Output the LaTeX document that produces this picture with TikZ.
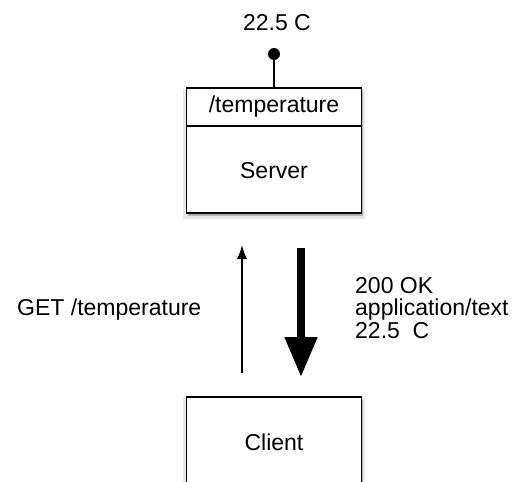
\documentclass[tikz,border=0pt]{standalone}
\usepackage{fontspec}
\setmainfont{Liberation Sans}
\usetikzlibrary{
arrows.meta,
positioning,
shadows
}
\tikzset{>=latex}

\begin{document}
\begin{tikzpicture}[x=1pt,y=-1pt,node distance=0pt,
		box/.style={draw,line width=1.8pt,fill=white,minimum width=175pt,inner sep=0pt},
		shade/.style={drop shadow={shadow xshift=0pt,shadow yshift=-3pt,shadow scale=1.04,opacity=0.15,fill=black!60},
			drop shadow={shadow xshift=1.5pt,shadow yshift=-3pt,opacity=0.4,fill=black!60}},
		every node/.style={font=\fontsize{23}{22.5}\selectfont}]
		\useasboundingbox (0,0) rectangle (523,482);
		\clip (0,0) rectangle (523,482);
		% server with its resource
		\node[box,shade,minimum height=125pt] at (274,150.5) (server) {};
		\node[box,minimum height=38pt,below=0pt of server.north] (res) {/temperature};
		\node[minimum height=87pt,below=0pt of res] (srvname) {Server};
		\node[circle,fill,inner sep=0pt,minimum size=12pt] at (274,54) (pin) {};
		\draw[line width=1.6pt] (pin) -- (server.north);
		\node at (277,23) (value) {22.5 C};
		% client
		\node[box,shade,minimum height=90pt] at (274,442) (client) {Client};
		% request / response
		\coordinate (reqfrom) at (242,373);
		\coordinate (reqto) at (242,245);
		\coordinate (respfrom) at (301,248);
		\coordinate (respto) at (301,377);
		\draw[line width=1.3pt,-{Latex[length=14pt,width=10pt]}] (reqfrom) -- (reqto);
		\draw[line width=8pt,-{Triangle[length=40pt,width=31pt]}] (respfrom) -- (respto);
		\node[anchor=west,inner sep=0pt] at (17,310) (get) {GET /temperature};
		\node[anchor=west,align=left,inner sep=0pt] at (355,308) (ok) {200 OK\\application/text\\22.5\ \ C};
\end{tikzpicture}
\end{document}
